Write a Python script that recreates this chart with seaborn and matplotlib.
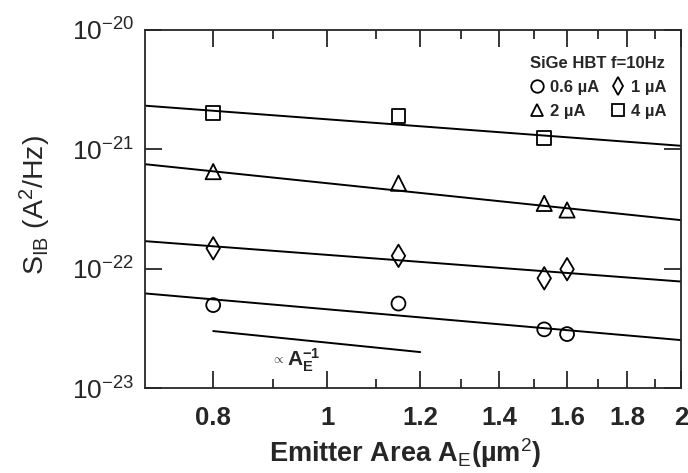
import matplotlib
matplotlib.use('Agg')
import matplotlib.pyplot as plt
from matplotlib import font_manager
from matplotlib.lines import Line2D
from matplotlib.ticker import FixedLocator, NullFormatter, NullLocator
import seaborn as sns

# measured points (A^2/Hz) vs emitter area (um^2)
areas = [0.8, 1.15, 1.53, 1.6]
areas_4 = [0.8, 1.15, 1.53]
s_06 = [4.95e-23, 5.1e-23, 3.1e-23, 2.83e-23]
s_1 = [1.48e-22, 1.28e-22, 8.3e-23, 9.9e-23]
s_2 = [6.5e-22, 5.2e-22, 3.52e-22, 3.1e-22]
s_4 = [2.0e-21, 1.9e-21, 1.25e-21]

# fitted lines, end points
fit_x = [0.7, 2.0]
fit_06 = [6.2e-23, 2.52e-23]
fit_1 = [1.70e-22, 7.8e-23]
fit_2 = [7.5e-22, 2.55e-22]
fit_4 = [2.32e-21, 1.07e-21]

# 1/A_E guide
ref_x = [0.8, 1.2]
ref_y = [3.0e-23, 2.0e-23]

x_major = [0.8, 1, 1.2, 1.4, 1.6, 1.8, 2]
x_minor = [0.9, 1.1, 1.3, 1.5, 1.7, 1.9]
x_labels = ['0.8', '1', '1.2', '1.4', '1.6', '1.8', '2']
y_major = [1e-23, 1e-22, 1e-21, 1e-20]
y_labels = [r'$10^{-23}$', r'$10^{-22}$', r'$10^{-21}$', r'$10^{-20}$']

sns.set_style('ticks')
names = {f.name for f in font_manager.fontManager.ttflist}
main_font = 'Liberation Sans'
narrow_font = 'Liberation Sans Narrow' if 'Liberation Sans Narrow' in names else 'Liberation Sans'
plt.rcParams['font.family'] = [main_font, 'DejaVu Sans']
plt.rcParams['mathtext.fontset'] = 'custom'
plt.rcParams['mathtext.rm'] = main_font
plt.rcParams['mathtext.it'] = main_font
plt.rcParams['mathtext.bf'] = main_font + ':bold'

fig = plt.figure(figsize=(6.88, 4.73), dpi=100)
ax = fig.add_axes([0.2108, 0.1797, 0.779, 0.757])

series = [
    (areas, s_06, fit_06, 'o', 100, '0.6 µA'),
    (areas, s_1, fit_1, 'd', 130, '1 µA'),
    (areas, s_2, fit_2, '^', 120, '2 µA'),
    (areas_4, s_4, fit_4, 's', 100, '4 µA'),
]
handles = {}
for xs, ys, fy, mk, sz, lab in series:
    sns.lineplot(x=fit_x, y=fy, color='black', linewidth=1.4, ax=ax)
    sns.scatterplot(x=xs, y=ys, marker=mk, s=sz, facecolors='none',
                    edgecolor='black', linewidth=1.3, ax=ax, zorder=3)
    handles[lab] = Line2D([], [], linestyle='none', marker=mk, markersize=9,
                          markerfacecolor='none', markeredgecolor='black',
                          markeredgewidth=1.3)

sns.lineplot(x=ref_x, y=ref_y, color='black', linewidth=1.4, ax=ax)
ax.text(0.908, 1.71e-23, r'$\propto$', ha='center', va='center', fontsize=9)
ax.text(0.925, 1.71e-23, r'$\mathbf{A_E^{-1}}$', ha='left', va='center',
        fontsize=15)

ax.set_xscale('log')
ax.set_yscale('log')
ax.set_xlim(0.7, 2.0)
ax.set_ylim(1e-23, 1e-20)
ax.xaxis.set_major_locator(FixedLocator(x_major))
ax.xaxis.set_minor_locator(FixedLocator(x_minor))
ax.xaxis.set_minor_formatter(NullFormatter())
ax.set_xticklabels(x_labels, fontsize=18.5, fontweight='bold')
ax.yaxis.set_major_locator(FixedLocator(y_major))
ax.yaxis.set_minor_locator(NullLocator())
ax.set_yticklabels(y_labels, fontsize=19)

ax.tick_params(which='both', direction='in', top=True, right=True, width=1.3)
ax.tick_params(which='major', length=12.5)
ax.tick_params(which='minor', length=6.8)
ax.tick_params(axis='x', pad=13)
ax.tick_params(axis='y', pad=8)
for sp in ax.spines.values():
    sp.set_linewidth(1.3)

ax.set_xlabel(r'Emitter Area A$_\mathrm{E}$(µm$^2$)', fontsize=19.5, fontweight='bold')
ax.xaxis.set_label_coords(0.485, -0.135)
ax.set_ylabel(r'S$_\mathrm{IB}$ (A$^2$/Hz)', fontsize=20.5)
ax.yaxis.set_label_coords(-0.172, 0.51)

order = ['0.6 µA', '2 µA', '1 µA', '4 µA']
leg = ax.legend([handles[k] for k in order], order, ncol=2, loc='upper right',
                bbox_to_anchor=(0.995, 0.96), frameon=False,
                title='SiGe HBT f=10Hz', handlelength=1.0, handletextpad=0.3,
                columnspacing=0.6, labelspacing=0.55, borderpad=0.2,
                prop={'family': narrow_font, 'weight': 'bold', 'size': 12})
leg.get_title().set_fontfamily(narrow_font)
leg.get_title().set_fontweight('bold')
leg.get_title().set_fontsize(12)

fig.savefig('out.png', dpi=100)
